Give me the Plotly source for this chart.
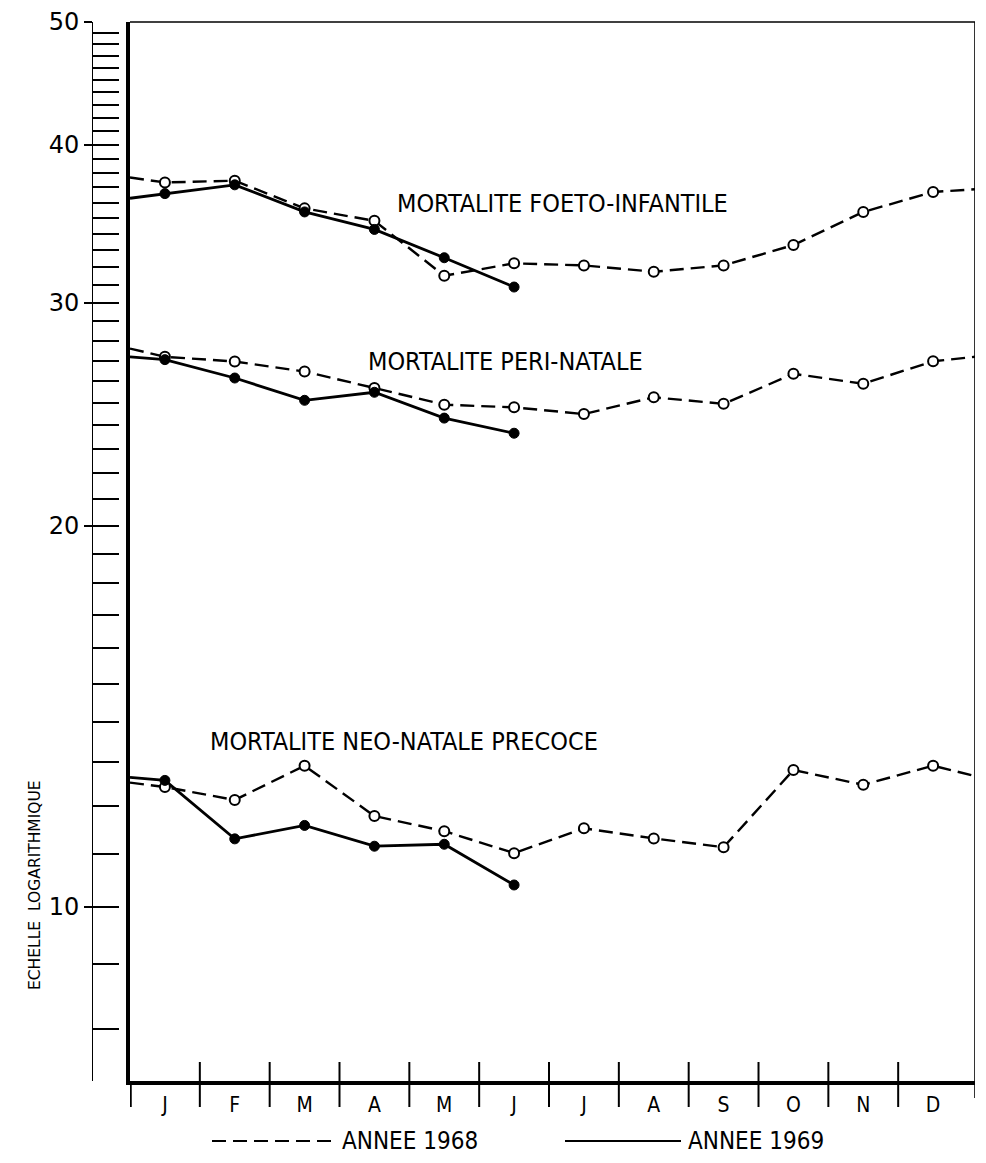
import math
import plotly.graph_objects as go

# ---------------- data ----------------
months = ["J", "F", "M", "A", "M", "J", "J", "A", "S", "O", "N", "D"]
month_idx = list(range(12))

# Mortalité foeto-infantile
foeto_1968 = [37.34, 37.46, 35.62, 34.82, 31.51, 32.23, 32.11, 31.74, 32.11, 33.32, 35.39, 36.70]
foeto_1969 = [36.59, 37.18, 35.39, 34.28, 32.56, 30.87]
# Mortalité péri-natale
peri_1968 = [27.19, 26.96, 26.47, 25.69, 24.92, 24.80, 24.50, 25.26, 24.96, 26.36, 25.89, 26.97]
peri_1969 = [27.05, 26.16, 25.12, 25.49, 24.32, 23.66]
# Mortalité néo-natale précoce
neo_1968 = [12.43, 12.14, 12.92, 11.79, 11.47, 11.02, 11.53, 11.32, 11.14, 12.82, 12.48, 12.92]
neo_1969 = [12.58, 11.31, 11.59, 11.16, 11.20, 10.40]

# values where the drawn lines meet the frame (left edge / right edge)
edge_left_1968 = [37.68, 27.60, 12.53]
edge_left_1969 = [36.28, 27.19, 12.65]
edge_right_1968 = [36.88, 27.19, 12.68]

curve_labels = ["MORTALITE FOETO-INFANTILE", "MORTALITE PERI-NATALE", "MORTALITE NEO-NATALE PRECOCE"]
y_major = [10, 20, 30, 40, 50]
y_minor = list(range(8, 51))
legend_labels = ["ANNEE 1968", "ANNEE 1969"]
y_title = "ECHELLE  LOGARITHMIQUE"

# ---------------- geometry ----------------
W, H = 986, 1163
ML, MR, MT, MB = 20, 11, 22, 82
PW = W - ML - MR
PH = H - MT - MB
X_LEFT, X_RIGHT = -0.5, 11.6
Y_MIN, Y_MAX = 7.28, 50.0

def px_x(px):
    return (px - ML) / PW

def px_y(py):
    return (H - MB - py) / PH

FONT = "DejaVu Sans Condensed, DejaVu Sans, sans-serif"
FONT_WIDE = "DejaVu Sans, sans-serif"
DASH = "14px,7px"

fig = go.Figure()

series_1968 = [foeto_1968, peri_1968, neo_1968]
series_1969 = [foeto_1969, peri_1969, neo_1969]

for k in range(3):
    s68 = series_1968[k]
    s69 = series_1969[k]
    fig.add_trace(go.Scatter(
        x=[X_LEFT] + month_idx + [X_RIGHT],
        y=[edge_left_1968[k]] + s68 + [edge_right_1968[k]],
        mode="lines", line=dict(color="black", width=2.4, dash=DASH),
        showlegend=False, hoverinfo="skip"))
    fig.add_trace(go.Scatter(
        x=[X_LEFT] + month_idx[:len(s69)],
        y=[edge_left_1969[k]] + s69,
        mode="lines", line=dict(color="black", width=2.8),
        showlegend=False, hoverinfo="skip"))

for k in range(3):
    s68 = series_1968[k]
    s69 = series_1969[k]
    fig.add_trace(go.Scatter(
        x=month_idx, y=s68, mode="markers",
        marker=dict(symbol="circle", size=10, color="white",
                    line=dict(color="black", width=2)),
        showlegend=False, name=legend_labels[0]))
    fig.add_trace(go.Scatter(
        x=month_idx[:len(s69)], y=s69, mode="markers",
        marker=dict(symbol="circle", size=10, color="black",
                    line=dict(color="black", width=1)),
        showlegend=False, name=legend_labels[1]))

ruler_pos = px_x(92)
yrange = [math.log10(Y_MIN), math.log10(Y_MAX)]

fig.update_layout(
    width=W, height=H,
    margin=dict(l=ML, r=MR, t=MT, b=MB, autoexpand=False),
    paper_bgcolor="white", plot_bgcolor="white",
    font=dict(family=FONT, color="black"),
    showlegend=False,
    xaxis=dict(
        domain=[px_x(130), 1.0],
        range=[X_LEFT, X_RIGHT], autorange=False,
        tickmode="array", tickvals=month_idx, ticktext=months,
        ticks="outside", ticklen=2, tickcolor="rgba(0,0,0,0)",
        tickfont=dict(size=21, family=FONT),
        showline=True, linewidth=3.5, linecolor="black",
        showgrid=False, zeroline=False, fixedrange=True,
    ),
    yaxis=dict(
        type="log", range=yrange, autorange=False,
        showline=True, linewidth=3.5, linecolor="black",
        ticks="", showticklabels=False, showgrid=False, zeroline=False,
    ),
    yaxis2=dict(
        type="log", range=yrange, autorange=False,
        overlaying="y", anchor="free", position=ruler_pos, side="left",
        showline=True, linewidth=1.3, linecolor="black",
        tickmode="array", tickvals=y_minor, showticklabels=False,
        ticks="inside", ticklen=26, tickwidth=1.6, tickcolor="black",
        showgrid=False, zeroline=False,
    ),
    yaxis3=dict(
        type="log", range=yrange, autorange=False,
        overlaying="y", anchor="free", position=ruler_pos, side="left",
        showline=False,
        tickmode="array", tickvals=y_major, ticktext=[str(v) for v in y_major],
        ticks="outside", ticklen=8, tickwidth=1.6, tickcolor="black",
        tickfont=dict(size=24, family=FONT_WIDE),
        showgrid=False, zeroline=False,
    ),
)

fig.add_trace(go.Scatter(x=[None], y=[None], yaxis="y2", showlegend=False, hoverinfo="skip"))
fig.add_trace(go.Scatter(x=[None], y=[None], yaxis="y3", showlegend=False, hoverinfo="skip"))

shapes = []
for i in range(len(months) - 1):
    shapes.append(dict(type="line", xref="x", yref="paper",
                       x0=i + 0.5, x1=i + 0.5, y0=px_y(1062), y1=px_y(1107),
                       line=dict(color="black", width=2)))
shapes.append(dict(type="line", xref="x", yref="paper", x0=X_LEFT, x1=X_LEFT,
                   y0=0, y1=px_y(1107), line=dict(color="black", width=3.5)))
shapes.append(dict(type="line", xref="x", yref="paper", x0=X_RIGHT, x1=X_RIGHT,
                   y0=px_y(1098), y1=1, line=dict(color="black", width=1.6)))
shapes.append(dict(type="line", xref="paper", yref="paper", x0=px_x(130), x1=px_x(975),
                   y0=1, y1=1, line=dict(color="black", width=1.6)))
shapes.append(dict(type="line", xref="paper", yref="paper", x0=px_x(212), x1=px_x(338),
                   y0=px_y(1141), y1=px_y(1141), line=dict(color="black", width=2.2, dash=DASH)))
shapes.append(dict(type="line", xref="paper", yref="paper", x0=px_x(565), x1=px_x(681),
                   y0=px_y(1141), y1=px_y(1141), line=dict(color="black", width=2.2)))
fig.update_layout(shapes=shapes)

annotations = [
    dict(text=curve_labels[0], x=px_x(395), y=px_y(204), size=25),
    dict(text=curve_labels[1], x=px_x(366), y=px_y(362), size=25),
    dict(text=curve_labels[2], x=px_x(208), y=px_y(741), size=25),
    dict(text=legend_labels[0], x=px_x(340), y=px_y(1141), size=24),
    dict(text=legend_labels[1], x=px_x(686), y=px_y(1141), size=24),
]
ann_out = []
for a in annotations:
    ann_out.append(dict(text=a["text"], x=a["x"], y=a["y"],
                        xref="paper", yref="paper", xanchor="left", yanchor="middle",
                        showarrow=False, font=dict(size=a["size"], family=FONT, color="black")))
ann_out.append(dict(text=y_title, xref="paper", yref="paper",
                    x=px_x(35), y=px_y(885), textangle=-90, showarrow=False,
                    xanchor="center", yanchor="middle",
                    font=dict(size=15.5, family=FONT_WIDE, color="black")))
fig.update_layout(annotations=ann_out)

fig.write_html("out.html",
               config={"displayModeBar": False},
               post_script="document.body.style.margin='0';document.body.style.padding='0';"
                           "document.documentElement.style.overflow='hidden';")
